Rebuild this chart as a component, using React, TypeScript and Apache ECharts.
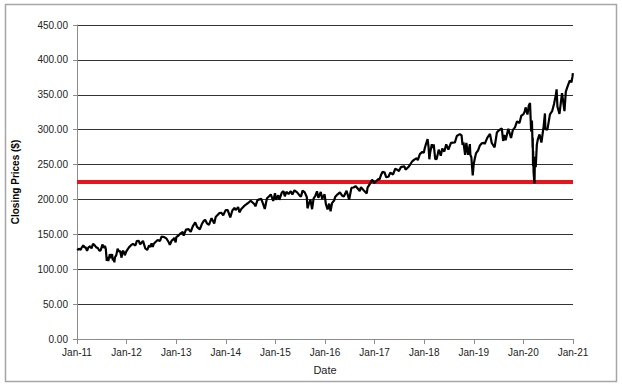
import React, { useEffect, useRef } from "react";
import * as echarts from "echarts";

const yearTicks = ["Jan-11", "Jan-12", "Jan-13", "Jan-14", "Jan-15", "Jan-16", "Jan-17", "Jan-18", "Jan-19", "Jan-20", "Jan-21"];
const priceThreshold = 225;

const days2011 = ["01-03","01-14","01-28","02-04","02-18","02-24","03-04","03-16","03-25","04-08","04-18","04-29","05-10","05-23","06-03","06-15","06-24","07-07","07-15","07-26","08-01","08-08","08-10","08-12","08-19","08-31","09-09","09-16","09-22","09-28","10-03","10-07","10-17","10-27","11-04","11-14","11-25","12-02","12-09","12-19","12-30"];
const close2011 = [127.1,129.3,127.7,131.0,134.3,130.9,132.0,126.2,131.0,132.9,130.0,136.4,134.6,131.3,130.4,126.5,126.8,135.5,130.9,133.3,128.8,112.0,112.5,117.6,111.8,121.6,115.9,121.7,112.8,114.3,109.9,116.7,120.2,129.5,125.7,126.0,116.6,125.6,126.1,120.0,125.5];

const days2012 = ["01-06","01-20","02-03","02-17","03-06","03-16","03-30","04-10","04-20","05-01","05-18","06-01","06-15","06-25","07-03","07-12","07-20","08-03","08-17","09-04","09-14","10-05","10-22","11-09","11-15","11-30","12-07","12-18","12-28"];
const close2012 = [127.6,131.7,134.4,136.4,134.0,140.3,140.8,135.6,138.0,140.6,129.7,127.6,134.1,131.8,137.0,131.9,136.5,139.4,141.9,140.4,146.6,146.1,143.7,137.9,135.0,141.5,142.0,145.0,138.4];

const days2013 = ["01-02","01-18","02-01","02-19","02-25","03-14","04-02","04-18","05-03","05-21","06-05","06-24","07-10","07-23","08-02","08-15","08-30","09-18","10-08","10-18","10-29","11-15","11-29","12-13","12-31"];
const close2013 = [146.1,148.3,151.2,153.3,148.0,156.7,157.4,153.7,161.4,167.2,160.2,157.1,165.2,169.2,170.9,165.8,163.6,173.2,165.5,174.4,177.1,180.4,181.0,177.3,184.7];

const days2014 = ["01-15","02-03","02-18","03-07","03-14","04-02","04-11","04-25","05-13","05-29","06-20","07-03","07-31","08-07","08-22","09-18","10-01","10-15","10-31","11-14","11-28","12-16","12-29"];
const close2014 = [184.7,174.2,184.2,188.0,184.7,189.0,181.5,186.3,190.0,192.7,195.9,198.2,193.1,190.0,199.0,201.0,194.4,186.4,201.7,204.2,207.2,197.9,209.0];

const days2015 = ["01-06","01-22","01-30","02-17","03-02","03-11","03-23","04-08","04-24","05-06","05-21","06-10","06-29","07-08","07-20","08-05","08-20","08-25","09-01","09-16","09-28","10-09","10-22","11-03","11-13","12-01","12-11","12-29"];
const close2015 = [199.5,206.1,199.5,209.8,211.9,204.5,210.9,207.9,211.7,207.0,213.1,210.1,205.4,204.0,212.6,210.1,203.5,187.3,191.8,199.7,186.0,201.3,205.3,211.6,202.3,210.7,200.7,207.4];

const days2016 = ["01-07","01-20","02-01","02-11","02-22","03-08","03-17","04-01","04-20","05-05","05-19","06-08","06-15","06-27","07-14","07-29","08-15","09-09","09-13","09-22","10-12","11-04","11-10","11-25","12-13","12-30"];
const close2016 = [194.1,185.7,194.0,182.9,194.8,198.4,204.0,207.0,210.1,205.7,204.2,212.4,208.0,199.6,216.6,217.1,219.0,213.3,212.0,217.6,213.2,208.6,216.9,221.5,228.3,223.5];

const days2017 = ["01-12","01-27","02-06","02-17","03-01","03-16","03-27","04-13","04-26","05-17","06-02","06-16","06-29","07-14","07-27","08-08","08-17","09-05","09-20","10-05","10-20","11-07","11-15","11-30","12-18","12-29"];
const close2017 = [226.0,229.0,228.9,235.0,239.8,238.5,231.9,232.5,238.5,235.8,244.0,242.6,240.6,246.4,247.1,247.3,242.7,246.1,250.1,254.7,257.1,259.1,256.4,265.0,268.2,266.9];

const days2018 = ["01-05","01-12","01-26","02-02","02-08","02-13","02-26","03-08","03-12","03-23","04-02","04-11","04-18","05-03","05-14","05-29","06-12","06-28","07-17","07-31","08-15","08-29","09-20","10-03","10-10","10-17","10-29","11-07","11-20","12-03","12-07","12-14","12-24","12-31"];
const close2018 = [273.4,278.1,286.6,275.5,257.6,266.0,279.0,274.1,278.9,258.1,257.5,265.2,271.4,262.6,272.9,268.7,278.9,271.3,281.0,281.3,281.8,291.0,293.6,291.7,278.3,281.8,263.9,281.0,264.1,279.3,263.6,260.5,234.3,249.9];

const days2019 = ["01-08","01-18","02-01","02-15","03-01","03-18","03-22","04-10","04-30","05-13","06-03","06-20","07-03","07-26","08-05","08-13","08-23","09-12","10-02","10-15","10-31","11-15","12-03","12-17","12-31"];
const close2019 = [258.3,266.5,270.1,277.4,280.4,281.3,279.2,288.3,294.0,280.9,274.6,295.9,298.8,302.0,283.8,292.5,284.8,301.3,288.1,299.3,303.3,311.8,309.6,320.1,321.9];

const days2020 = ["01-10","01-17","01-31","02-10","02-19","02-27","03-03","03-04","03-09","03-10","03-12","03-13","03-16","03-20","03-23","03-26","04-01","04-09","04-17","04-29","05-13","05-29","06-08","06-11","06-26","07-15","07-31","08-14","08-28","09-02","09-08","09-23","10-12","10-30","11-09","11-24","12-08","12-21","12-28","12-31"];
const close2020 = [325.7,331.9,321.7,334.7,338.3,297.5,300.2,313.0,274.2,288.4,248.1,269.3,239.9,228.8,222.9,261.2,246.2,278.2,286.6,293.2,281.6,304.3,323.2,300.6,300.1,321.9,326.5,336.8,350.6,357.7,333.2,322.6,352.4,326.5,354.6,363.2,370.2,367.9,376.0,381.0];

const years = [2011, 2012, 2013, 2014, 2015, 2016, 2017, 2018, 2019, 2020];
const allDays = [days2011, days2012, days2013, days2014, days2015, days2016, days2017, days2018, days2019, days2020];
const allCloses = [close2011, close2012, close2013, close2014, close2015, close2016, close2017, close2018, close2019, close2020];

function toYearFraction(year: number, md: string): number {
  const [m, d] = md.split("-").map(Number);
  const t = Date.UTC(year, m - 1, d);
  const s = Date.UTC(year, 0, 1);
  const e = Date.UTC(year + 1, 0, 1);
  return year + (t - s) / (e - s);
}

export default function App() {
  const ref = useRef<HTMLDivElement>(null);
  useEffect(() => {
    document.body.style.margin = "0";
    if (!ref.current) return;
    const chart = echarts.init(ref.current, null, { renderer: "svg" });
    const priceData: number[][] = [];
    years.forEach((y, i) => {
      allDays[i].forEach((md, j) => priceData.push([toYearFraction(y, md), allCloses[i][j]]));
    });
    const font = "'Liberation Sans', Arial, sans-serif";
    chart.setOption({
      animation: false,
      backgroundColor: "#ffffff",
      graphic: [
        {
          type: "rect",
          shape: { x: 5.5, y: 4.5, width: 611, height: 377 },
          style: { fill: "none", stroke: "#a6a6a6", lineWidth: 1.5 },
          silent: true,
        },
      ],
      grid: { left: 77, right: 49, top: 25, bottom: 50 },
      xAxis: {
        type: "value",
        min: 2011,
        max: 2021,
        interval: 1,
        name: "Date",
        nameLocation: "middle",
        nameGap: 25,
        nameTextStyle: { fontFamily: font, fontSize: 11, color: "#222" },
        axisLine: { lineStyle: { color: "#8c8c8c", width: 1 } },
        axisTick: { show: true, length: 5, lineStyle: { color: "#8c8c8c" } },
        axisLabel: {
          fontFamily: font,
          fontSize: 10,
          color: "#222",
          margin: 8,
          formatter: (v: number) => yearTicks[Math.round(v - 2011)] ?? "",
        },
        splitLine: { show: false },
      },
      yAxis: {
        type: "value",
        min: 0,
        max: 450,
        interval: 50,
        name: "Closing Prices ($)",
        nameLocation: "middle",
        nameGap: 57,
        nameTextStyle: { fontFamily: font, fontSize: 10, fontWeight: "bold", color: "#000" },
        axisLine: { show: true, lineStyle: { color: "#8c8c8c", width: 1 } },
        axisTick: { show: true, length: 4, lineStyle: { color: "#8c8c8c" } },
        axisLabel: {
          fontFamily: font,
          fontSize: 10,
          color: "#222",
          margin: 9,
          formatter: (v: number) => v.toFixed(2),
        },
        splitLine: { show: true, lineStyle: { color: "#333333", width: 1 } },
      },
      series: [
        {
          type: "line",
          name: "Threshold",
          data: [[2011, priceThreshold], [2021, priceThreshold]],
          symbol: "none",
          lineStyle: { color: "#e8141b", width: 4 },
          silent: true,
        },
        {
          type: "line",
          name: "Close",
          data: priceData,
          symbol: "none",
          lineStyle: { color: "#000000", width: 2.2 },
          silent: true,
        },
      ],
    });
    return () => chart.dispose();
  }, []);
  return <div ref={ref} style={{ width: 622, height: 389 }} />;
}
